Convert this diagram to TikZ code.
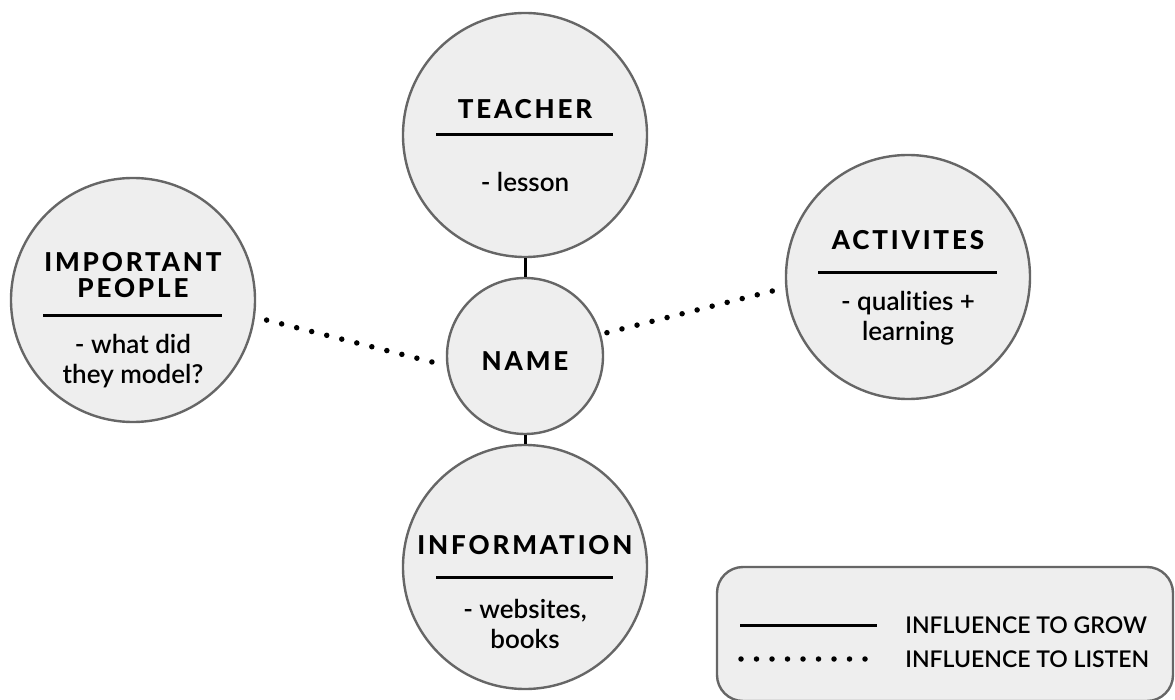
\documentclass[tikz,border=0pt]{standalone}
\usepackage{fontspec}
\setmainfont[Ligatures=NoCommon]{Lato Semibold}
\newfontfamily\headfont[LetterSpace=11]{Lato Heavy}
\usepackage{tikz}
\usetikzlibrary{arrows,positioning}
\definecolor{bubblefill}{HTML}{EEEEEE}
\definecolor{bubbleedge}{HTML}{666666}

\begin{document}
\begin{tikzpicture}[x=1pt,y=-1pt,thick,
  main node/.style={circle,draw=bubbleedge,fill=bubblefill,line width=2.4pt,minimum size=244pt,inner sep=0pt},
  name node/.style={circle,draw=bubbleedge,fill=bubblefill,line width=2.4pt,minimum size=156pt,inner sep=0pt},
  head/.style={font=\headfont\fontsize{26}{26}\selectfont,align=center,inner sep=0pt},
  body/.style={font=\fontsize{26}{30}\selectfont,align=center,inner sep=0pt},
  legend text/.style={font=\fontsize{23}{24}\selectfont,anchor=west,inner sep=0pt},
  bar/.style={line width=3pt,black},
  grow line/.style={line width=3pt,black},
  listen line/.style={line width=5.5pt,line cap=round,dash pattern=on 0pt off 15.5pt,black}]

  \useasboundingbox (0,0) rectangle (1175,700);

  % bubbles
  \node[main node] (teacher) at (525,135) {};
  \node[name node] (name) at (525,356) {};
  \node[main node] (info) at (525,567) {};
  \node[main node] (people) at (133,300) {};
  \node[main node] (act) at (908,277) {};

  % connectors
  \draw[grow line] (teacher) -- (name);
  \draw[grow line] (name) -- (info);
  \draw[listen line,shorten <=12pt,shorten >=8pt] (people.-8) -- (name.-173);
  \draw[listen line,shorten <=6pt,shorten >=12pt] (name.16) -- (act.-175);

  % texts
  \node[head] (teacherhead) at (525,109) {TEACHER};
  \draw[bar] (436,135) -- (613,135);
  \node[body] (teacherbody) at (525,182) {- lesson};

  \node[head] (namehead) at (525,361) {NAME};

  \node[head] (infohead) at (525,545) {INFORMATION};
  \draw[bar] (436,577) -- (613,577);
  \node[body] (infobody) at (525,624) {- websites,\\books};

  \node[head] (peoplehead) at (133,275) {IMPORTANT\\PEOPLE};
  \draw[bar] (43,316) -- (222,316);
  \node[body] (peoplebody) at (133,361) {- what did\\they model?};

  \node[head] (acthead) at (908,240) {ACTIVITES};
  \draw[bar] (818,273) -- (997,273);
  \node[body] (actbody) at (908,318) {- qualities +\\learning};

  % legend
  \node[draw=bubbleedge,fill=bubblefill,line width=2.4pt,rounded corners=26pt,
    minimum width=456pt,minimum height=134pt,inner sep=0pt] (legend) at (945,634) {};
  \coordinate (growa) at (740,625);
  \coordinate (growb) at (877,625);
  \coordinate (lista) at (741,659);
  \coordinate (listb) at (877,659);
  \draw[grow line] (growa) -- (growb);
  \draw[listen line] (lista) -- (listb);
  \node[legend text] (growtext) at (905,625) {INFLUENCE TO GROW};
  \node[legend text] (listtext) at (905,659) {INFLUENCE TO LISTEN};

\end{tikzpicture}
\end{document}
